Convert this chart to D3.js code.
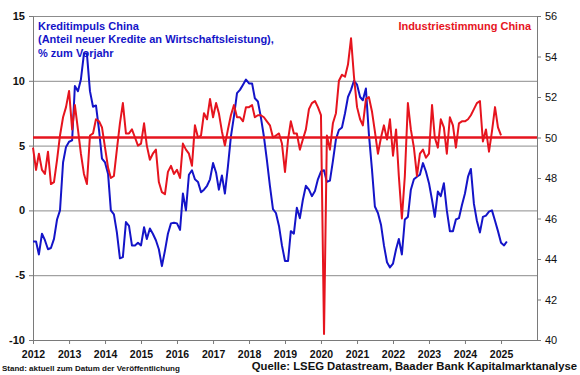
<!DOCTYPE html>
<html>
<head>
<meta charset="utf-8">
<script src="https://cdn.jsdelivr.net/npm/d3@7"></script>
<style>
    html, body { margin: 0; padding: 0; background: #fff; }
    svg { display: block; font-family: "Liberation Sans", Arial, sans-serif; }
</style>
</head>
<body>
<div id="chart"></div>
<script>
// monthly series, first value = Jan 2012
const START_YEAR = 2012;

// Kreditimpuls China, % of GDP yoy (left axis)
const kreditimpuls = [
    -2.4, -2.4, -3.4, -1.8, -2.3, -3.0, -2.9, -2.2, -0.7, 0.0, 3.7, 4.9,   // 2012
    5.3, 5.4, 9.6, 9.2, 10.1, 12.1, 12.1, 9.2, 8.0, 8.1, 6.2, 4.0,         // 2013
    3.7, 2.8, 0.0, -0.3, -1.7, -3.7, -3.6, -0.9, -1.2, -2.7, -2.7, -2.5,   // 2014
    -2.7, -1.3, -2.2, -1.4, -1.8, -2.3, -3.0, -4.3, -3.1, -1.8, -1.0, -0.95, // 2015
    -1.0, -1.5, 1.3, 0.0, 2.75, 3.1, 2.4, 2.2, 1.4, 1.6, 1.9, 2.4,         // 2016
    3.65, 2.9, 1.6, 2.7, 1.3, 3.4, 5.7, 7.25, 9.05, 9.3, 9.7, 10.1,        // 2017
    9.8, 9.8, 8.65, 8.4, 7.2, 5.7, 3.9, 1.9, 0.1, -0.2, -1.2, -2.7,        // 2018
    -3.9, -3.9, -1.6, -1.8, 0.2, -0.6, 0.8, 1.9, 1.6, 1.1, 1.5, 2.4,       // 2019
    3.0, 3.1, 2.2, 2.3, 3.8, 5.5, 6.2, 6.4, 7.5, 8.75, 9.3, 10.0,          // 2020
    9.7, 8.75, 8.5, 9.4, 5.9, 3.2, 0.3, -0.2, -1.1, -2.7, -4.0, -4.4,      // 2021
    -4.1, -3.0, -2.2, -3.4, -0.7, -0.5, 1.6, 2.4, 2.6, 2.75, 3.65, 3.0,    // 2022
    2.1, 0.8, -0.5, 1.45, 1.1, 2.1, 0.0, -1.6, -1.6, -0.7, -0.6, 0.4,      // 2023
    1.3, 2.6, 3.2, 0.5, -0.8, -1.7, -0.5, -0.4, -0.1, 0.0, -0.8, -1.6,     // 2024
    -2.5, -2.7, -2.4                                                        // 2025
];

// Industriestimmung China, PMI (right axis)
const industriestimmung = [
    49.5, 48.4, 49.2, 48.4, 48.2, 49.3, 47.7, 47.8, 48.9, 50.1, 51.0, 51.5, // 2012
    52.3, 50.4, 51.6, 50.4, 49.2, 48.2, 47.7, 50.1, 50.2, 50.9, 50.8, 50.5, // 2013
    49.5, 48.5, 48.0, 48.1, 49.4, 50.7, 51.7, 50.2, 50.2, 50.4, 50.0, 49.6, // 2014
    49.7, 50.7, 49.6, 48.9, 49.2, 49.4, 47.8, 47.3, 47.2, 48.3, 48.6, 48.2, // 2015
    48.4, 48.0, 49.7, 49.4, 49.2, 48.6, 50.6, 50.0, 50.1, 51.2, 50.9, 51.9, // 2016
    51.0, 51.7, 51.2, 50.3, 49.6, 50.4, 51.1, 51.6, 51.0, 51.0, 50.8, 51.5, // 2017
    51.5, 51.6, 51.0, 51.1, 51.1, 51.0, 50.8, 50.6, 50.0, 50.1, 50.2, 49.7, // 2018
    48.3, 49.9, 50.8, 50.2, 50.2, 49.4, 49.9, 50.4, 51.4, 51.7, 51.8, 51.5, // 2019
    51.1, 40.3, 50.1, 49.4, 50.7, 51.2, 52.8, 53.1, 53.0, 53.6, 54.9, 53.0, // 2020
    51.5, 50.9, 50.6, 51.9, 52.0, 51.3, 50.3, 49.2, 50.0, 50.6, 49.9, 50.9, // 2021
    49.1, 50.4, 48.1, 46.0, 48.1, 51.7, 50.4, 49.5, 48.1, 49.2, 49.4, 49.0, // 2022
    49.2, 51.6, 50.0, 49.5, 50.9, 50.5, 49.2, 51.0, 50.6, 49.5, 50.7, 50.8, // 2023
    50.8, 50.9, 51.1, 51.4, 51.7, 51.8, 49.8, 50.4, 49.3, 50.3, 51.5, 50.5, // 2024
    50.1                                                                    // 2025
];

const yearTicks = d3.range(2012, 2026);
const leftTicks = [-10, -5, 0, 5, 10, 15];
const rightTicks = [40, 42, 44, 46, 48, 50, 52, 54, 56];
const pmiThreshold = 50;

const leftTitle = ['Kreditimpuls China', '(Anteil neuer Kredite an Wirtschaftsleistung),', '% zum Vorjahr'];
const rightTitle = 'Industriestimmung China';
const footLeft = 'Stand: aktuell zum Datum der Veröffentlichung';
const footRight = 'Quelle: LSEG Datastream, Baader Bank Kapitalmarktanalyse';

const BLUE = '#1414c8';
const RED = '#e6141e';
const AXIS = '#7a7a7a';

const width = 580;
const height = 375;
const margins = { top: 16, right: 43, bottom: 35, left: 33 };
const chartWidth = width - margins.left - margins.right;
const chartHeight = height - margins.top - margins.bottom;

const monthDate = i => new Date(START_YEAR, i, 1);

const svg = d3.select('#chart')
    .append('svg')
    .attr('width', width)
    .attr('height', height)
    .attr('viewBox', [0, 0, width, height]);

const chart = svg.append('g')
    .attr('transform', `translate(${margins.left}, ${margins.top})`);

const xScale = d3.scaleTime()
    .domain([new Date(2012, 0, 1), new Date(2026, 0, 1)])
    .range([0, chartWidth]);

const yLeft = d3.scaleLinear()
    .domain([-10, 15])
    .range([chartHeight, 0]);

const yRight = d3.scaleLinear()
    .domain([40, 56])
    .range([chartHeight, 0]);

// gridlines
const yGridLines = d3.axisLeft(yLeft)
    .tickValues(leftTicks.filter(d => d > -10))
    .tickSize(-chartWidth)
    .tickFormat('');

chart.append('g')
    .classed('gridline', true)
    .call(yGridLines)
    .call(g => g.select('.domain').remove())
    .selectAll('line')
    .attr('stroke', '#8c8c8c')
    .attr('stroke-width', 1);

// axes
const styleAxis = g => {
    g.select('.domain').attr('stroke', AXIS);
    g.selectAll('.tick line').attr('stroke', AXIS);
    g.selectAll('text')
        .attr('fill', '#111')
        .style('font-family', '"Liberation Sans", Arial, sans-serif');
};

chart.append('g')
    .classed('x-axis', true)
    .attr('transform', `translate(0, ${chartHeight})`)
    .call(d3.axisBottom(xScale)
        .tickValues(yearTicks.map(y => new Date(y, 0, 1)))
        .tickFormat(d3.timeFormat('%Y'))
        .tickSize(4)
        .tickSizeOuter(0)
        .tickPadding(7))
    .call(styleAxis)
    .selectAll('text')
    .style('font-size', '10.5px')
    .style('font-weight', 'bold');

chart.append('g')
    .classed('y-axis', true)
    .call(d3.axisLeft(yLeft)
        .tickValues(leftTicks)
        .tickFormat(d => String(d))
        .tickSize(4)
        .tickSizeOuter(0)
        .tickPadding(4))
    .call(styleAxis)
    .selectAll('text')
    .style('font-size', '11px')
    .style('font-weight', 'bold');

chart.append('g')
    .classed('y-axis-right', true)
    .attr('transform', `translate(${chartWidth}, 0)`)
    .call(d3.axisRight(yRight)
        .tickValues(rightTicks)
        .tickFormat(d => String(d))
        .tickSize(4)
        .tickSizeOuter(0)
        .tickPadding(4))
    .call(styleAxis)
    .selectAll('text')
    .style('font-size', '11px');

// series
const blueLine = d3.line()
    .x((d, i) => xScale(monthDate(i)))
    .y(d => yLeft(d));

const redLine = d3.line()
    .x((d, i) => xScale(monthDate(i)))
    .y(d => yRight(d));

chart.append('path')
    .datum(kreditimpuls)
    .attr('fill', 'none')
    .attr('stroke', BLUE)
    .attr('stroke-width', 2)
    .attr('stroke-linejoin', 'round')
    .attr('d', blueLine);

chart.append('path')
    .datum(industriestimmung)
    .attr('fill', 'none')
    .attr('stroke', RED)
    .attr('stroke-width', 2)
    .attr('stroke-linejoin', 'round')
    .attr('d', redLine);

chart.append('line')
    .attr('x1', 0)
    .attr('x2', chartWidth)
    .attr('y1', yRight(pmiThreshold))
    .attr('y2', yRight(pmiThreshold))
    .attr('stroke', RED)
    .attr('stroke-width', 2.5);

// titles
svg.append('text')
    .attr('x', 38)
    .attr('y', 29.5)
    .attr('fill', BLUE)
    .style('font-size', '11px')
    .style('font-weight', 'bold')
    .selectAll('tspan')
    .data(leftTitle)
    .enter()
    .append('tspan')
    .attr('x', 38)
    .attr('dy', (d, i) => i === 0 ? 0 : 13.5)
    .text(d => d);

svg.append('text')
    .attr('x', 531)
    .attr('y', 29.5)
    .attr('fill', RED)
    .style('font-size', '11px')
    .style('font-weight', 'bold')
    .style('text-anchor', 'end')
    .text(rightTitle);

svg.append('text')
    .attr('x', 2)
    .attr('y', 371)
    .attr('fill', '#111')
    .style('font-size', '8px')
    .style('font-weight', 'bold')
    .text(footLeft);

svg.append('text')
    .attr('x', 577)
    .attr('y', 370)
    .attr('fill', '#111')
    .style('font-size', '11.3px')
    .style('font-weight', 'bold')
    .style('text-anchor', 'end')
    .text(footRight);
</script>
</body>
</html>
